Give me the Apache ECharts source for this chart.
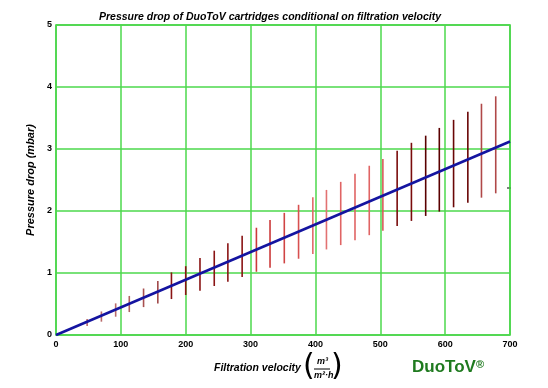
<!DOCTYPE html>
<html><head><meta charset="utf-8">
<script src="https://cdn.jsdelivr.net/npm/echarts@6/dist/echarts.min.js"></script>
<style>html,body{margin:0;padding:0;background:#fff}#c{width:548px;height:388px}</style>
</head><body><div id="c"></div>
<script>
const barVelocity = [48, 70, 92, 113, 135, 157, 178, 200, 222, 244, 265, 287, 309, 330, 352, 374, 396, 417, 439, 461, 483, 504, 526, 548, 570, 591, 613, 635, 656, 678];
const barHigh = [0.26, 0.38, 0.51, 0.63, 0.75, 0.87, 1.01, 1.11, 1.24, 1.36, 1.48, 1.60, 1.73, 1.855, 1.97, 2.10, 2.22, 2.34, 2.47, 2.60, 2.73, 2.84, 2.97, 3.10, 3.215, 3.34, 3.47, 3.60, 3.73, 3.85];
const barLow = [0.145, 0.215, 0.295, 0.37, 0.45, 0.51, 0.58, 0.645, 0.715, 0.79, 0.86, 0.935, 1.02, 1.085, 1.155, 1.23, 1.305, 1.38, 1.45, 1.53, 1.61, 1.68, 1.76, 1.84, 1.92, 1.99, 2.06, 2.135, 2.215, 2.285];
const lineVelocity = [0, 700];
const lineDrop = [0, 3.12];
const xTicks = [0, 100, 200, 300, 400, 500, 600, 700];
const yTicks = [0, 1, 2, 3, 4, 5];

const barColors = ['#b86a6a','#b86a6a','#b86a6a','#b06060','#a85050','#a04848',
  '#8a1414','#8a1414','#8a1414','#8a1414','#8a1414','#8a1414',
  '#cc3a3a','#cc3a3a','#d04444','#d85050','#e06a6a','#e27272',
  '#e06464','#e06464','#e06464','#d85a5a','#7a0c0c','#7a0c0c',
  '#5a0000','#5a0000','#6a0606','#6a0606','#b04848','#b04848'];

const bars = barVelocity.map((v, i) => [v, barLow[i], barHigh[i]]);
const line = lineVelocity.map((v, i) => [v, lineDrop[i]]);

const NARROW = '"Liberation Sans Narrow", "Liberation Sans", Arial';
const chart = echarts.init(document.getElementById('c'), null, {renderer: 'canvas'});
const tickFont = {fontFamily: NARROW, fontWeight: 'bold', fontSize: 9, color: '#000'};
chart.setOption({
  animation: false,
  backgroundColor: '#fff',
  title: {
    text: 'Pressure drop of DuoToV cartridges conditional on filtration velocity',
    left: 265, top: 7, textAlign: 'center',
    textStyle: {fontFamily: NARROW, fontStyle: 'italic', fontWeight: 'bold', fontSize: 10.5, color: '#000'}
  },
  grid: {left: 56, right: 38, top: 25, bottom: 53, show: true, borderColor: '#3cc83c', borderWidth: 1.5},
  xAxis: {
    type: 'value', min: 0, max: 700, interval: 100,
    axisLine: {show: false}, axisTick: {show: false},
    splitLine: {show: true, lineStyle: {color: '#4cd84c', width: 1.5}},
    axisLabel: Object.assign({margin: 5, formatter: v => xTicks.includes(v) ? String(v) : ''}, tickFont)
  },
  yAxis: {
    type: 'value', min: 0, max: 5, interval: 1,
    axisLine: {show: false}, axisTick: {show: false},
    splitLine: {show: true, lineStyle: {color: '#4cd84c', width: 1.5}},
    axisLabel: Object.assign({margin: 4, formatter: v => yTicks.includes(v) ? String(v) : ''}, tickFont),
    name: 'Pressure drop (mbar)', nameLocation: 'middle', nameGap: 19,
    nameTextStyle: {fontFamily: NARROW, fontStyle: 'italic', fontWeight: 'bold', fontSize: 11, color: '#000'}
  },
  series: [
    {
      type: 'custom', data: bars, z: 3,
      renderItem: (params, api) => {
        const p1 = api.coord([api.value(0), api.value(1)]);
        const p2 = api.coord([api.value(0), api.value(2)]);
        return {type: 'line', shape: {x1: p1[0], y1: p1[1], x2: p2[0], y2: p2[1]},
          style: {stroke: barColors[params.dataIndex], lineWidth: 1.6}};
      }
    },
    {
      type: 'line', data: line, symbol: 'none', z: 5,
      lineStyle: {color: '#1414a0', width: 2.6}
    }
  ],
  graphic: [
    {type: 'text', left: 214, top: 363, style: {text: 'Filtration velocity', font: 'italic bold 10.5px ' + NARROW, fill: '#000'}},
    {type: 'text', left: 303, top: 352, style: {text: '(', font: '30px "DejaVu Sans", Arial', fill: '#000'}},
    {type: 'text', left: 331, top: 352, style: {text: ')', font: '30px "DejaVu Sans", Arial', fill: '#000'}},
    {type: 'text', left: 317, top: 357, style: {text: 'm³', font: 'italic bold 9px ' + NARROW, fill: '#000'}},
    {type: 'line', shape: {x1: 314, y1: 369, x2: 330, y2: 369}, style: {stroke: '#000', lineWidth: 1}},
    {type: 'text', left: 314, top: 371, style: {text: 'm²·h', font: 'italic bold 9px ' + NARROW, fill: '#000'}},
    {type: 'text', left: 412, top: 359, style: {text: 'DuoToV', font: 'bold 17px "Liberation Sans", Arial', fill: '#1f7a1f'}},
    {type: 'text', left: 476, top: 359, style: {text: '®', font: 'bold 11px "Liberation Sans", Arial', fill: '#1f7a1f'}},
    {type: 'line', shape: {x1: 507, y1: 188, x2: 511, y2: 188}, style: {stroke: '#000', lineWidth: 1}}
  ]
});
</script></body></html>
